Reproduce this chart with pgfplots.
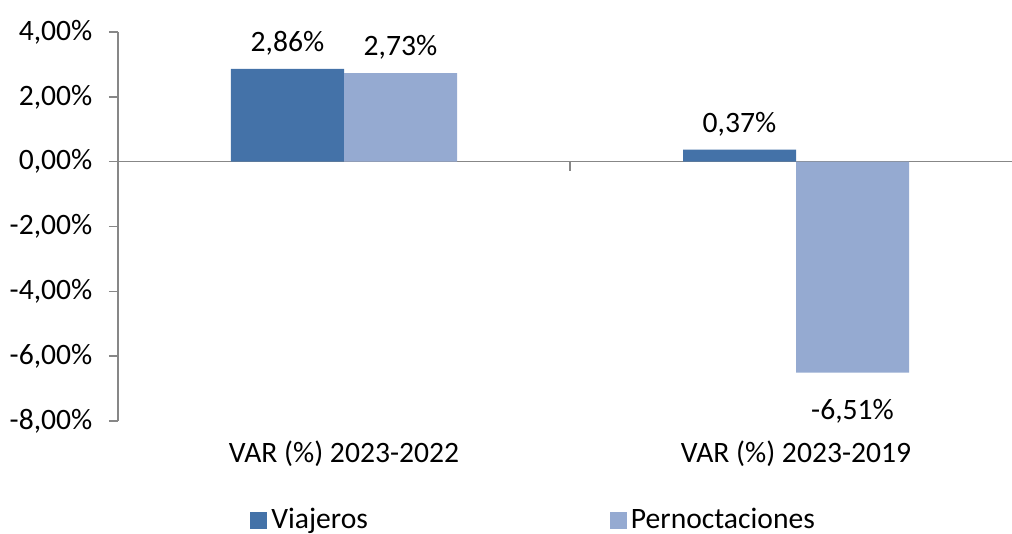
\documentclass[border=0pt]{standalone}
\usepackage{pgfplots}
\pgfplotsset{compat=1.18}
\usepackage{fontspec}
\setmainfont{Carlito}
\definecolor{viaj}{HTML}{4472A8}
\definecolor{pern}{HTML}{95AAD1}
\definecolor{axgray}{HTML}{878787}
\newcommand{\cf}{\fontsize{14.8pt}{17pt}\selectfont}
\begin{document}
\cf
\begin{tikzpicture}[font=\cf]
\useasboundingbox (-59pt,-56.5pt) rectangle (447pt,210.5pt);
\clip (-59pt,-56.5pt) rectangle (447pt,210.5pt);
\begin{axis}[
  at={(0pt,0pt)}, anchor=south west,
  scale only axis, width=452pt, height=194.5pt,
  xmin=-0.5, xmax=1.5, ymin=-8, ymax=4,
  axis y line=left, axis x line=middle,
  axis line style={-, draw=axgray, line width=0.8pt},
  tick style={draw=axgray, line width=0.7pt},
  tick align=outside, major tick length=4.5pt,
  ytick={-8,-6,-4,-2,0,2,4},
  yticklabels={{-8,00\%},{-6,00\%},{-4,00\%},{-2,00\%},{0,00\%},{2,00\%},{4,00\%}},
  yticklabel style={xshift=-3.2pt, font=\cf},
  xtick={0.5}, xticklabels={},
  extra x ticks={0,1},
  extra x tick labels={VAR (\%) 2023-2022, VAR (\%) 2023-2019},
  extra x tick style={major tick length=0pt, xticklabel style={anchor=center, yshift=-146pt, font=\cf}},
  ybar=0pt, bar width=0.25,
  nodes near coords, point meta=explicit symbolic,
  every node near coord/.append style={font=\cf, text=black, yshift=1.6pt},
  legend columns=2,
  legend style={at={(0.146,-0.2555)}, anchor=west, draw=none, inner sep=0pt,
    font=\cf,
    /tikz/every even column/.append style={column sep=119pt}},
  legend image code/.code={\fill[#1] (0pt,-4.25pt) rectangle (8.5pt,4.25pt);},
  clip=false,
]
\addplot[fill=viaj, draw=none] coordinates {(0,2.86) [2,86\%] (1,0.37) [0,37\%]};
\addplot[fill=pern, draw=none] coordinates {(0,2.73) [2,73\%] (1,-6.51) [{\raisebox{-30pt}[0pt][0pt]{-6,51\%}}]};
\legend{Viajeros, Pernoctaciones}
\end{axis}
\end{tikzpicture}
\end{document}
